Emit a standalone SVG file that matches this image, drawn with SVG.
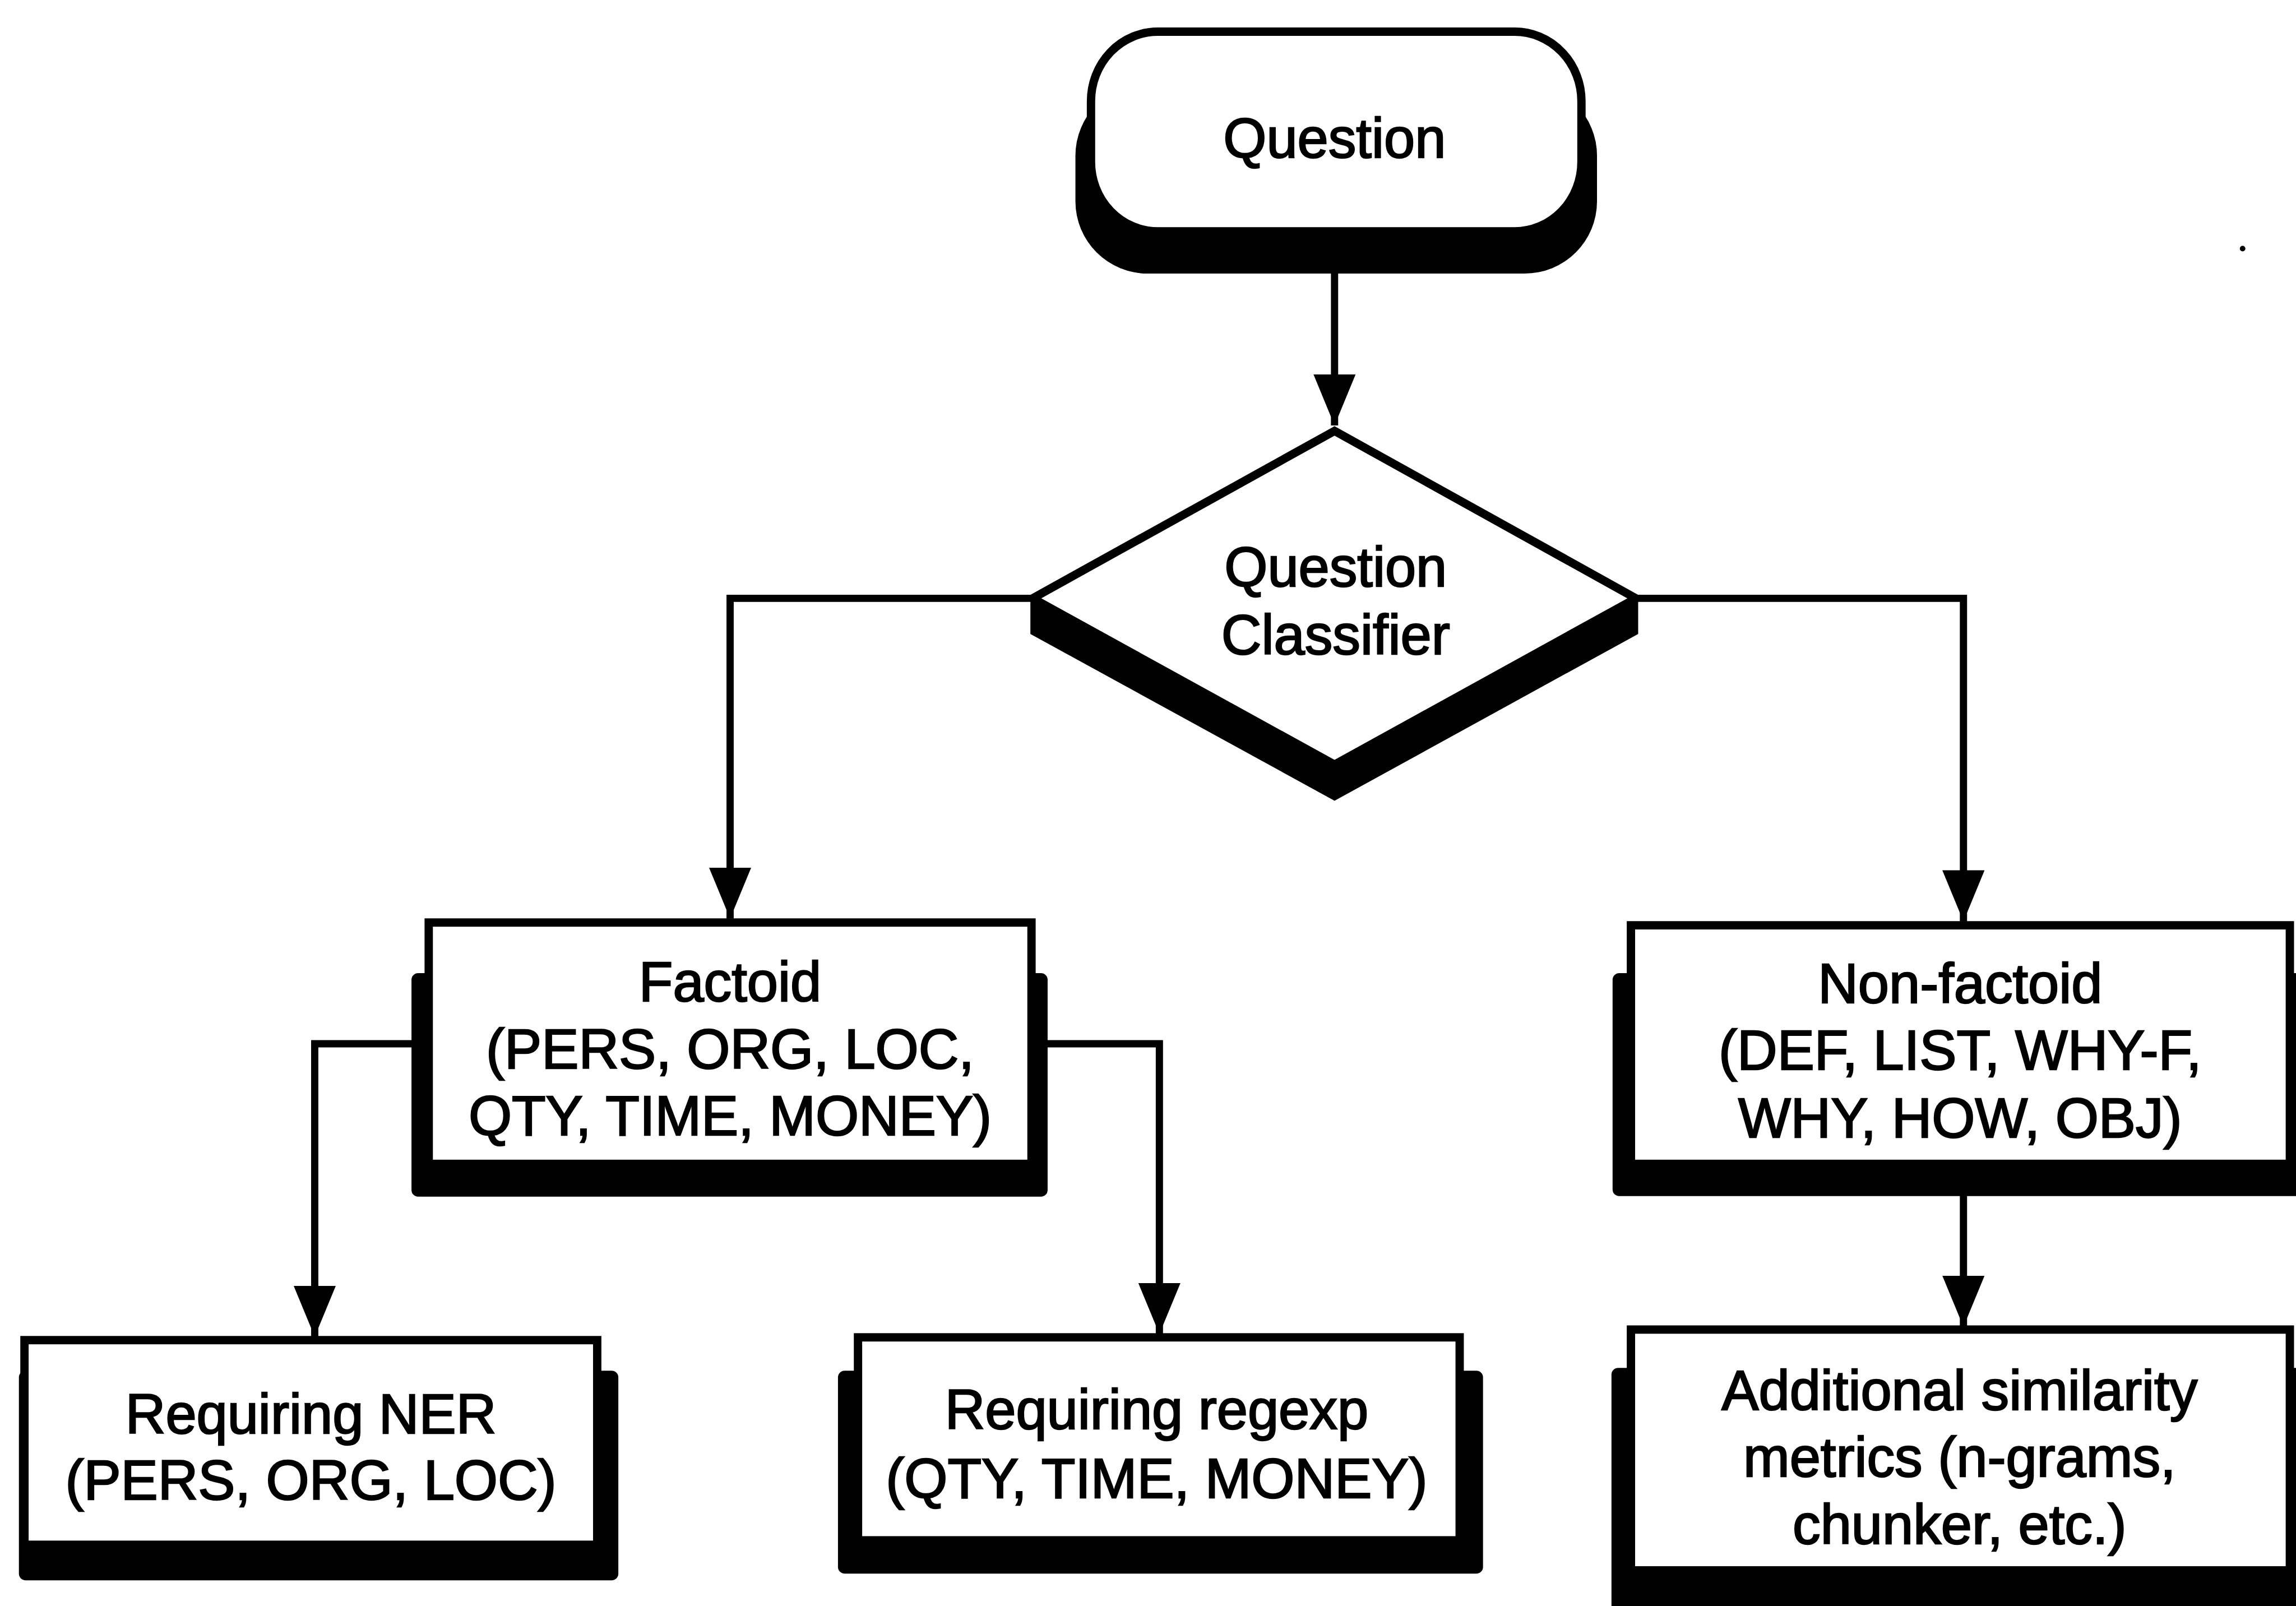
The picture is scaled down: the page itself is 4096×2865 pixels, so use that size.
<svg xmlns="http://www.w3.org/2000/svg" width="4096" height="2865" viewBox="0 0 4096 2865">
<defs>
<style>
.box{fill:#fff;stroke:#000;stroke-width:15;stroke-linejoin:miter}
.sh{fill:#000;stroke:none}
.ln{fill:none;stroke:#000;stroke-width:13;stroke-linejoin:miter}
.t{font-family:"Liberation Sans",Arial,Helvetica,sans-serif;font-size:100px;fill:#000;stroke:#000;stroke-width:2.5;text-anchor:middle}
</style>
<marker id="arr" markerUnits="userSpaceOnUse" markerWidth="100" markerHeight="80" refX="92" refY="38" orient="auto">
<path d="M0,0 L92,38 L0,76 Z" fill="#000"/>
</marker>
</defs>
<rect width="4096" height="2865" fill="#fff"/>
<g transform="scale(0.992)">
<g id="connectors">
<path class="ln" d="M2400,440 V765" marker-end="url(#arr)"/>
<path class="ln" d="M1857,1076 H1313 V1652" marker-end="url(#arr)"/>
<path class="ln" d="M2942,1076 H3531 V1657" marker-end="url(#arr)"/>
<path class="ln" d="M771,1877 H566 V2404" marker-end="url(#arr)"/>
<path class="ln" d="M1855,1877 H2085 V2399" marker-end="url(#arr)"/>
<path class="ln" d="M3531,2093 V2386" marker-end="url(#arr)"/>
</g>
<g id="node-question">
<rect class="sh" x="1934" y="150" width="938" height="342" rx="130" ry="130"/>
<rect class="box" x="1962" y="57" width="882" height="359" rx="120" ry="125"/>
<text class="t" x="2400" y="283">Question</text>
</g>
<g id="node-classifier">
<polygon class="sh" points="1853,1076 1853,1140 2400,1440 2946,1140 2946,1076 2400,1375"/>
<polygon class="box" points="2400,775 2942,1076 2400,1375 1857,1076"/>
<text class="t" x="2402" y="1054">Question</text>
<text class="t" x="2402" y="1176">Classifier</text>
</g>
<g id="node-factoid">
<rect class="sh" x="740" y="1750" width="1144" height="402" rx="12"/>
<rect class="box" x="771" y="1659" width="1084" height="434"/>
<text class="t" x="1313" y="1800">Factoid</text>
<text class="t" x="1313" y="1921">(PERS, ORG, LOC,</text>
<text class="t" x="1313" y="2041">QTY, TIME, MONEY)</text>
</g>
<g id="node-nonfactoid">
<rect class="sh" x="2900" y="1750" width="1260" height="401" rx="12"/>
<rect class="box" x="2933" y="1664" width="1185" height="429"/>
<text class="t" x="3525" y="1803">Non-factoid</text>
<text class="t" x="3525" y="1923">(DEF, LIST, WHY-F,</text>
<text class="t" x="3525" y="2045">WHY, HOW, OBJ)</text>
</g>
<g id="node-ner">
<rect class="sh" x="34" y="2465" width="1078" height="377" rx="12"/>
<rect class="box" x="44" y="2410" width="1030" height="368"/>
<text class="t" x="559" y="2578">Requiring NER</text>
<text class="t" x="559" y="2697">(PERS, ORG, LOC)</text>
</g>
<g id="node-regexp">
<rect class="sh" x="1507" y="2465" width="1160" height="365" rx="12"/>
<rect class="box" x="1543" y="2405" width="1082" height="365"/>
<text class="t" x="2080" y="2570">Requiring regexp</text>
<text class="t" x="2080" y="2694">(QTY, TIME, MONEY)</text>
</g>
<g id="node-additional">
<rect class="sh" x="2898" y="2460" width="1260" height="440" rx="12"/>
<rect class="box" x="2933" y="2391" width="1185" height="433"/>
<text class="t" x="3524" y="2535">Additional similarity</text>
<text class="t" x="3524" y="2655">metrics (n-grams,</text>
<text class="t" x="3524" y="2776">chunker, etc.)</text>
</g>
<circle cx="4033" cy="447" r="5" fill="#000"/>
</g>
</svg>
